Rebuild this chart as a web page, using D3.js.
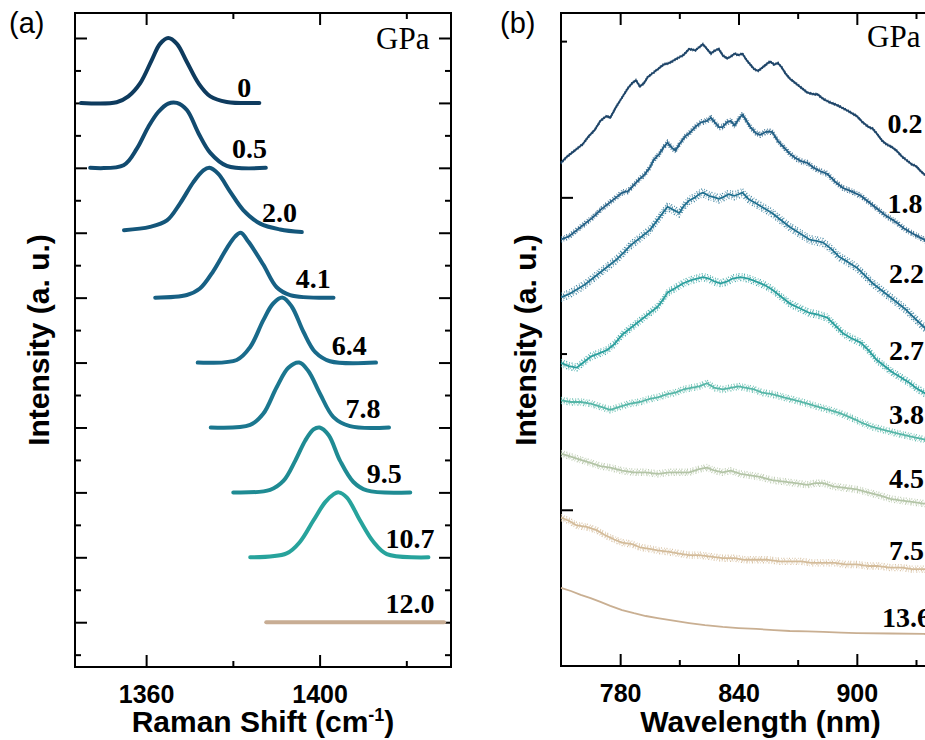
<!DOCTYPE html>
<html>
<head>
<meta charset="utf-8">
<script src="https://cdn.jsdelivr.net/npm/d3@7"></script>
<style>
  body { margin: 0; background: #fff; }
  svg { display: block; }
</style>
</head>
<body>
<div id="chart"></div>
<script>
// ---- Panel (a): Raman spectra, [shift cm-1, relative intensity 0..1] ----
const ramanPressures = ["0", "0.5", "2.0", "4.1", "6.4", "7.8", "9.5", "10.7", "12.0"];
const ramanOffsets = [8, 7, 6, 5, 4, 3, 2, 1, 0];
const ramanColors = ["#0e3b5e", "#114a6f", "#14567a", "#176084", "#196b8b", "#1b778f", "#1f8b93", "#27a39c", "#c8ad94"];
const ramanSpectra = [
  [[1345.0,0],[1353.2,0.01],[1355.9,0.1],[1358.6,0.3],[1361.3,0.66],[1363.2,0.91],[1365.1,1.0],[1367.1,0.91],[1369.4,0.63],[1372.1,0.3],[1374.8,0.1],[1378.6,0.015],[1386.1,0]],
  [[1347.1,0],[1354.8,0.04],[1357.9,0.3],[1360.5,0.63],[1362.8,0.86],[1365.1,0.99],[1367.1,1.0],[1369.4,0.89],[1372.1,0.53],[1374.8,0.23],[1378.6,0.03],[1387.6,0]],
  [[1354.9,0.04],[1360.9,0.09],[1364.8,0.19],[1367.8,0.45],[1370.9,0.78],[1373.2,0.96],[1374.6,1.0],[1376.6,0.91],[1379.4,0.63],[1382.4,0.35],[1386.3,0.14],[1390.9,0.05],[1395.9,0.01]],
  [[1362.1,0],[1369.4,0.04],[1372.4,0.14],[1375.5,0.41],[1378.6,0.76],[1380.5,0.94],[1381.8,1.0],[1383.6,0.86],[1387.0,0.51],[1390.1,0.16],[1393.2,0.04],[1403.2,0]],
  [[1371.9,0],[1380.9,0.04],[1384.0,0.24],[1387.0,0.65],[1389.3,0.91],[1391.5,1.0],[1393.6,0.86],[1396.3,0.47],[1399.0,0.16],[1402.4,0.02],[1413.0,0]],
  [[1374.9,0],[1384.0,0.04],[1387.0,0.21],[1390.1,0.62],[1392.8,0.92],[1395.3,1.0],[1397.4,0.87],[1400.1,0.52],[1403.2,0.16],[1407.0,0.02],[1416.0,0]],
  [[1380.1,0],[1388.6,0.04],[1391.7,0.18],[1394.4,0.49],[1396.7,0.8],[1398.6,0.97],[1400.0,1.0],[1402.1,0.88],[1404.7,0.49],[1407.8,0.16],[1410.9,0.03],[1420.9,0]],
  [[1384.0,0],[1392.4,0.06],[1395.5,0.24],[1398.6,0.57],[1401.3,0.85],[1403.2,0.97],[1404.4,1.0],[1406.3,0.92],[1409.3,0.57],[1412.4,0.24],[1415.5,0.05],[1425.1,0]],
  [[1387.7,0],[1428.7,0]]
];
const ramanLabelX = [1381.0, 1379.8, 1386.7, 1394.5, 1402.8, 1406.0, 1410.9, 1415.2, 1415.2];
const ramanLabelY = [8.09, 7.15, 6.16, 5.15, 4.11, 3.14, 2.14, 1.15, 0.14];
const ramanMajorX = [1360, 1400];
const ramanMinorX = [1380, 1420];
const ramanMajorY = [0, 1, 2, 3, 4, 5, 6, 7, 8, 9];
const ramanMinorY = [-0.5, 0.5, 1.5, 2.5, 3.5, 4.5, 5.5, 6.5, 7.5, 8.5];

// ---- Panel (b): PL spectra, [wavelength nm, intensity a.u. incl. offset] ----
const plPressures = ["0.2", "1.8", "2.2", "2.7", "3.8", "4.5", "7.5", "13.6"];
const plColors = ["#1d4468", "#225f85", "#1f6f8f", "#2a9f9d", "#55b6a7", "#b3c4a6", "#d3bb99", "#c9af92"];
const plSpectra = [
  [[750,32.2],[753,32.6],[756,32.9],[758,33.1],[761,33.4],[764,33.9],[767,34.3],[770,34.9],[773,35.2],[775,35.1],[778,35.8],[781,36.4],[784,37.0],[786,37.3],[788,37.5],[790,37.1],[792,37.3],[794,37.7],[797,38.0],[800,38.3],[802,38.5],[805,38.6],[809,38.9],[812,39.1],[815,39.5],[818,39.4],[820,39.6],[822,39.8],[824,39.5],[826,39.2],[828,39.4],[830,39.5],[832,39.1],[834,38.9],[836,39.0],[838,39.2],[840,39.1],[842,39.2],[844,38.8],[846,38.5],[848,38.2],[850,38.1],[852,38.3],[854,38.5],[856,38.7],[858,38.5],[860,38.6],[862,38.3],[864,37.9],[866,37.6],[868,37.4],[870,37.2],[872,37.0],[875,36.7],[878,36.6],[880,36.6],[883,36.3],[886,36.1],[890,35.9],[893,35.7],[896,35.5],[900,35.2],[903,34.8],[906,34.5],[908,34.4],[910,34.1],[913,33.6],[915,33.4],[918,33.2],[920,33.0],[923,32.6],[925,32.4],[928,32.1],[930,32.0],[933,31.6],[935,31.4],[938,31.1],[940,30.9],[943,30.5],[945,30.3],[948,29.9],[950,29.7]],
  [[750,27.3],[754,27.5],[758,27.9],[762,28.3],[766,28.7],[770,29.2],[774,29.6],[778,30.0],[781,30.3],[784,30.4],[787,30.8],[790,31.2],[792,31.4],[795,31.9],[797,32.4],[800,32.8],[802,33.2],[804,33.5],[806,33.2],[808,33.0],[810,33.4],[813,33.9],[815,34.1],[818,34.5],[821,34.8],[824,34.9],[826,35.1],[828,34.8],[830,34.5],[832,34.5],[834,34.8],[836,34.9],[838,34.6],[840,35.0],[842,35.3],[844,34.9],[846,34.5],[849,34.1],[851,34.0],[854,34.2],[857,34.2],[860,33.6],[863,33.2],[866,32.8],[869,32.5],[872,32.3],[875,32.2],[878,31.9],[881,31.7],[885,31.5],[889,31.0],[893,30.6],[897,30.4],[902,30.1],[906,29.7],[910,29.3],[915,28.8],[920,28.4],[924,28.0],[928,27.7],[931,27.5],[934,27.3],[938,26.9],[942,26.5],[946,26.2],[950,25.8]],
  [[750,23.6],[754,23.8],[758,24.1],[762,24.4],[766,24.8],[770,25.2],[774,25.6],[778,26.0],[782,26.5],[785,26.9],[787,27.1],[790,27.4],[793,27.7],[795,27.9],[798,28.4],[801,28.9],[804,29.4],[807,29.2],[810,29.0],[812,29.4],[815,29.8],[818,30.0],[820,30.2],[822,30.3],[825,30.1],[828,30.0],[830,29.9],[832,30.0],[835,30.2],[838,30.1],[840,30.2],[842,30.3],[845,29.9],[849,29.6],[853,29.3],[857,29.0],[861,28.6],[866,28.1],[871,27.7],[876,27.3],[880,27.2],[883,27.1],[887,26.7],[891,26.2],[895,25.9],[900,25.5],[904,25.0],[908,24.5],[912,24.1],[917,23.6],[921,23.2],[925,22.8],[929,22.3],[934,21.7],[938,21.2],[942,20.8],[946,20.3],[950,19.9]],
  [[750,19.4],[754,19.2],[758,19.1],[761,19.4],[765,19.8],[769,20.0],[773,20.2],[777,20.6],[781,21.2],[785,21.6],[790,22.1],[794,22.5],[799,23.0],[802,23.5],[804,23.9],[808,24.2],[812,24.5],[816,24.7],[819,24.8],[822,24.9],[825,24.8],[828,24.6],[831,24.5],[834,24.6],[837,24.8],[841,24.9],[845,24.8],[849,24.6],[853,24.4],[857,24.1],[861,23.7],[866,23.2],[871,22.9],[876,22.6],[880,22.5],[885,22.3],[889,21.8],[893,21.3],[897,21.0],[902,20.7],[906,20.2],[910,19.6],[914,19.2],[918,18.8],[922,18.5],[927,18.1],[930,17.8],[934,17.5],[938,17.2],[942,16.9],[946,16.6],[950,16.4]],
  [[750,17.0],[755,16.9],[760,16.9],[765,16.8],[770,16.6],[775,16.4],[780,16.6],[785,16.8],[790,16.9],[795,17.1],[799,17.2],[804,17.4],[808,17.5],[812,17.7],[816,17.8],[820,17.9],[824,18.1],[828,17.8],[832,17.7],[836,17.8],[840,17.9],[844,17.8],[848,17.7],[852,17.5],[857,17.4],[863,17.2],[869,17.0],[875,16.8],[880,16.6],[886,16.4],[891,16.2],[897,15.9],[902,15.6],[908,15.3],[914,15.1],[920,14.9],[927,14.7],[934,14.5],[940,14.2],[945,14.0],[950,13.8]],
  [[750,13.6],[755,13.4],[760,13.2],[765,13.0],[770,12.8],[775,12.7],[781,12.5],[787,12.4],[793,12.4],[799,12.3],[805,12.4],[810,12.4],[815,12.4],[820,12.6],[824,12.7],[828,12.5],[832,12.4],[836,12.5],[841,12.3],[846,12.2],[851,12.1],[857,11.9],[863,11.8],[869,11.7],[875,11.6],[879,11.7],[883,11.7],[888,11.5],[894,11.4],[900,11.3],[906,11.1],[912,10.9],[917,10.7],[922,10.6],[928,10.5],[934,10.4],[940,10.3],[945,10.2],[950,10.1]],
  [[750,9.5],[754,9.3],[758,9.0],[763,8.9],[768,8.7],[772,8.4],[777,8.1],[781,7.9],[786,7.8],[790,7.6],[795,7.5],[799,7.4],[805,7.3],[810,7.2],[815,7.1],[820,7.1],[826,7.0],[832,6.9],[838,6.9],[843,6.8],[849,6.8],[855,6.8],[861,6.7],[866,6.7],[872,6.7],[877,6.6],[883,6.6],[889,6.6],[894,6.5],[900,6.5],[906,6.4],[911,6.4],[917,6.3],[923,6.3],[928,6.2],[934,6.2],[942,6.1],[950,6.1]],
  [[750,5.0],[755,4.8],[760,4.55],[765,4.35],[770,4.1],[775,3.85],[781,3.58],[787,3.38],[793,3.2],[799,3.07],[807,2.9],[815,2.75],[823,2.62],[832,2.5],[840,2.43],[849,2.37],[858,2.3],[866,2.24],[875,2.21],[883,2.18],[892,2.14],[900,2.11],[917,2.08],[934,2.05],[950,2.03]]
];
const plLabelX = [915.5, 915.5, 916.3, 916.3, 916.3, 916.3, 916.3, 912.8];
const plLabelY = [34.1, 29.0, 24.5, 19.6, 15.5, 11.4, 6.8, 2.5];
const plMajorX = [780, 840, 900];
const plMinorX = [810, 870, 930];
const plMajorY = [10, 30];
const plMinorY = [20, 40];

// demi-largeur (px) de la bande de bruit pour chaque spectre (style)
const plNoiseHalf = [1, 2.5, 4, 3.5, 3, 3, 3, 0];
const speckleDash = ["1,2.3,0.7,1.6", "0.8,1.4,1.2,2.6", "0.6,2.0,1.3,1.1", "1.1,1.7,0.5,2.2"];

const W = 925, H = 740;
const sansFont = "'Liberation Sans', Arial, sans-serif";
const serifFont = "'Liberation Serif', 'Times New Roman', serif";

const svg = d3.select("#chart").append("svg").attr("width", W).attr("height", H);

function drawFrame(g, x, y, w, h, xMajor, xMinor, yMajor, yMinor) {
  const axes = [
    [d3.axisBottom(x).tickValues(xMajor).tickSize(-12).tickPadding(18).tickFormat(d3.format("d")), `translate(0,${h})`, true],
    [d3.axisBottom(x).tickValues(xMinor).tickSize(-6).tickFormat(""), `translate(0,${h})`],
    [d3.axisTop(x).tickValues(xMajor).tickSize(-12).tickFormat(""), null],
    [d3.axisTop(x).tickValues(xMinor).tickSize(-6).tickFormat(""), null],
    [d3.axisLeft(y).tickValues(yMajor).tickSize(-12).tickFormat(""), null],
    [d3.axisLeft(y).tickValues(yMinor).tickSize(-6).tickFormat(""), null],
    [d3.axisRight(y).tickValues(yMajor).tickSize(-12).tickFormat(""), `translate(${w},0)`],
    [d3.axisRight(y).tickValues(yMinor).tickSize(-6).tickFormat(""), `translate(${w},0)`]
  ];
  axes.forEach(([ax, tr, labels]) => {
    const a = g.append("g").call(ax);
    if (tr) a.attr("transform", tr);
    a.select(".domain").remove();
    a.selectAll(".tick line").attr("stroke", "#000").attr("stroke-width", 2);
    if (labels) {
      a.selectAll(".tick text")
        .attr("fill", "#000")
        .style("font-family", sansFont)
        .style("font-weight", "bold")
        .style("font-size", "25px");
    }
  });
  g.append("rect").attr("x", 0).attr("y", 0).attr("width", w).attr("height", h)
    .attr("fill", "none").attr("stroke", "#000").attr("stroke-width", 2);
}

function yTitle(x, y) {
  svg.append("text")
    .attr("transform", `translate(${x},${y}) rotate(-90)`)
    .attr("text-anchor", "middle")
    .style("font-family", sansFont).style("font-weight", "bold").style("font-size", "30px")
    .text("Intensity (a. u.)");
}

// ================= Panel (a) =================
const aLeft = 75, aTop = 13, aW = 376, aH = 654;
const ga = svg.append("g").attr("transform", `translate(${aLeft},${aTop})`);
const xa = d3.scaleLinear().domain([1343.6, 1430.3]).range([0, aW]);
const ya = d3.scaleLinear().domain([-0.69, 9.385]).range([aH, 0]);

drawFrame(ga, xa, ya, aW, aH, ramanMajorX, ramanMinorX, ramanMajorY, ramanMinorY);

ramanSpectra.forEach((spec, i) => {
  const line = d3.line()
    .x(d => xa(d[0]))
    .y(d => ya(d[1] + ramanOffsets[i]))
    .curve(d3.curveCatmullRom);
  ga.append("path").datum(spec)
    .attr("d", line)
    .attr("fill", "none")
    .attr("stroke", ramanColors[i])
    .attr("stroke-width", 4)
    .attr("stroke-linecap", "round");
  ga.append("text")
    .attr("x", xa(ramanLabelX[i])).attr("y", ya(ramanLabelY[i]))
    .style("font-family", serifFont).style("font-weight", "bold").style("font-size", "28px")
    .text(ramanPressures[i]);
});

ga.append("text").attr("x", 301).attr("y", 36)
  .style("font-family", serifFont).style("font-size", "31px").text("GPa");

svg.append("text").attr("x", 9).attr("y", 33)
  .style("font-family", sansFont).style("font-size", "29px").text("(a)");

const xaTitle = svg.append("text").attr("x", aLeft + aW / 2).attr("y", 732)
  .attr("text-anchor", "middle")
  .style("font-family", sansFont).style("font-weight", "bold").style("font-size", "30px");
xaTitle.append("tspan").text("Raman Shift (cm");
xaTitle.append("tspan").attr("dy", -11).style("font-size", "18px").text("-1");
xaTitle.append("tspan").attr("dy", 11).text(")");

yTitle(49, 340);

// ================= Panel (b) =================
const bLeft = 561, bTop = 13, bW = 397, bH = 653;
const gb = svg.append("g").attr("transform", `translate(${bLeft},${bTop})`);
const xb = d3.scaleLinear().domain([750, 951.3]).range([0, bW]);
const yb = d3.scaleLinear().domain([0, 41.8]).range([bH, 0]);

drawFrame(gb, xb, yb, bW, bH, plMajorX, plMinorX, plMajorY, plMinorY);

const plLine = d3.line().x(d => xb(d[0])).y(d => yb(d[1]));

plSpectra.forEach((spec, i) => {
  // bande bruitée : copies pointillées décalées de part et d'autre
  const hw = plNoiseHalf[i];
  if (hw > 0) {
    [-1, -0.5, 0.5, 1].forEach((f, k) => {
      gb.append("path").datum(spec)
        .attr("d", plLine)
        .attr("transform", `translate(0,${f * hw})`)
        .attr("fill", "none")
        .attr("stroke", plColors[i])
        .attr("stroke-width", 1.4)
        .attr("stroke-dasharray", speckleDash[k])
        .attr("opacity", 0.85);
    });
  }
  gb.append("path").datum(spec)
    .attr("d", plLine)
    .attr("fill", "none")
    .attr("stroke", plColors[i])
    .attr("stroke-width", 1.8)
    .attr("stroke-linejoin", "round");
  gb.append("text")
    .attr("x", xb(plLabelX[i])).attr("y", yb(plLabelY[i]))
    .style("font-family", serifFont).style("font-weight", "bold").style("font-size", "28px")
    .text(plPressures[i]);
});

gb.append("text").attr("x", 306).attr("y", 34)
  .style("font-family", serifFont).style("font-size", "31px").text("GPa");

svg.append("text").attr("x", 500).attr("y", 33)
  .style("font-family", sansFont).style("font-size", "29px").text("(b)");

svg.append("text").attr("x", bLeft + bW / 2 + 1).attr("y", 732)
  .attr("text-anchor", "middle")
  .style("font-family", sansFont).style("font-weight", "bold").style("font-size", "30px")
  .text("Wavelength (nm)");

yTitle(536, 340);
</script>
</body>
</html>
